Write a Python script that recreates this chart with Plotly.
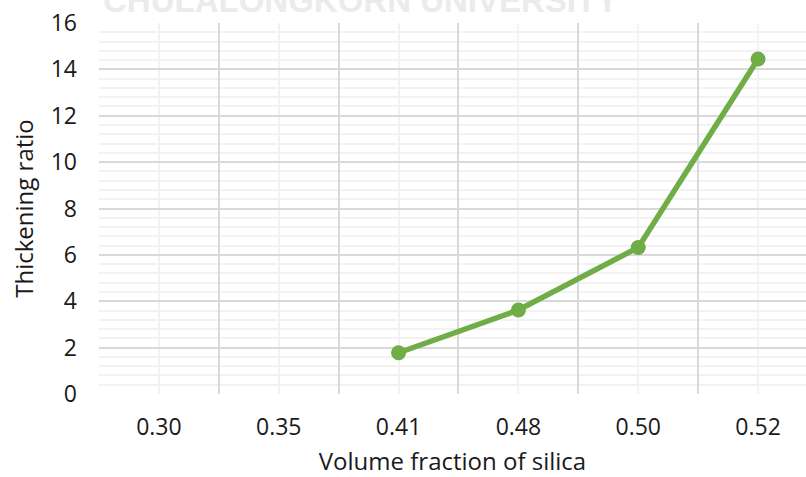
import plotly.graph_objects as go

# Volume fraction categories and measured thickening ratios
categories = ["0.30", "0.35", "0.41", "0.48", "0.50", "0.52"]
thickening_ratio = [None, None, 1.78, 3.62, 6.32, 14.45]

positions = list(range(len(categories)))
boundaries = [p - 0.5 for p in positions]
X_RANGE = [-0.5, 5.4]

LINE_GREEN = "#70ad47"
MAJOR_GRID = "#d9d9d9"
MINOR_GRID = "#f2f2f2"
TEXT = "#1a1a1a"
FONT = "Open Sans"

fig = go.Figure()
fig.add_trace(
    go.Scatter(
        x=positions,
        y=thickening_ratio,
        xaxis="x",
        yaxis="y",
        mode="lines+markers",
        line=dict(color=LINE_GREEN, width=5.5),
        marker=dict(color=LINE_GREEN, size=15),
        connectgaps=False,
        showlegend=False,
        hoverinfo="skip",
    )
)
# empty trace that anchors the category-label axis
fig.add_trace(
    go.Scatter(
        x=[None],
        y=[None],
        xaxis="x2",
        yaxis="y",
        mode="markers",
        showlegend=False,
        hoverinfo="skip",
    )
)

fig.update_layout(
    width=806,
    height=477,
    margin=dict(l=99, r=0, t=23, b=83),
    paper_bgcolor="white",
    plot_bgcolor="white",
    font=dict(family=FONT, color=TEXT),
    # grid axis: dark lines between categories, light lines through them
    xaxis=dict(
        range=X_RANGE,
        tickmode="array",
        tickvals=boundaries,
        showticklabels=False,
        showgrid=True,
        gridcolor=MAJOR_GRID,
        gridwidth=1.5,
        minor=dict(
            tickmode="array",
            tickvals=positions,
            showgrid=True,
            gridcolor=MINOR_GRID,
            gridwidth=1.5,
        ),
        zeroline=False,
        showline=False,
        ticks="",
        fixedrange=True,
    ),
    # label axis: category names centred on each category
    xaxis2=dict(
        overlaying="x",
        anchor="y",
        side="bottom",
        range=X_RANGE,
        tickmode="array",
        tickvals=positions,
        ticktext=categories,
        tickfont=dict(size=23, color=TEXT),
        ticklabelstandoff=17,
        showgrid=False,
        zeroline=False,
        showline=False,
        ticks="",
        title=dict(
            text="Volume fraction of silica",
            font=dict(size=24, color=TEXT),
            standoff=12,
        ),
        fixedrange=True,
    ),
    yaxis=dict(
        range=[0, 16],
        tickmode="linear",
        tick0=0,
        dtick=2,
        tickfont=dict(size=23, color=TEXT),
        ticklabelstandoff=21,
        showgrid=True,
        gridcolor=MAJOR_GRID,
        gridwidth=1.5,
        minor=dict(
            tick0=0,
            dtick=0.4,
            showgrid=True,
            gridcolor=MINOR_GRID,
            gridwidth=1.5,
        ),
        zeroline=False,
        showline=False,
        ticks="",
        title=dict(
            text="Thickening ratio",
            font=dict(size=24, color=TEXT),
            standoff=10,
        ),
        fixedrange=True,
    ),
)

# Faint institutional watermark running off the top edge
fig.add_annotation(
    text="CHULALONGKORN UNIVERSITY",
    xref="paper",
    yref="paper",
    x=(360 - 99) / 707,
    y=1 + (23 - 21) / 371,
    xanchor="center",
    yanchor="bottom",
    showarrow=False,
    font=dict(family="Liberation Sans", size=33, color="#ebebeb", weight="bold"),
)

fig.write_html("out.html")
